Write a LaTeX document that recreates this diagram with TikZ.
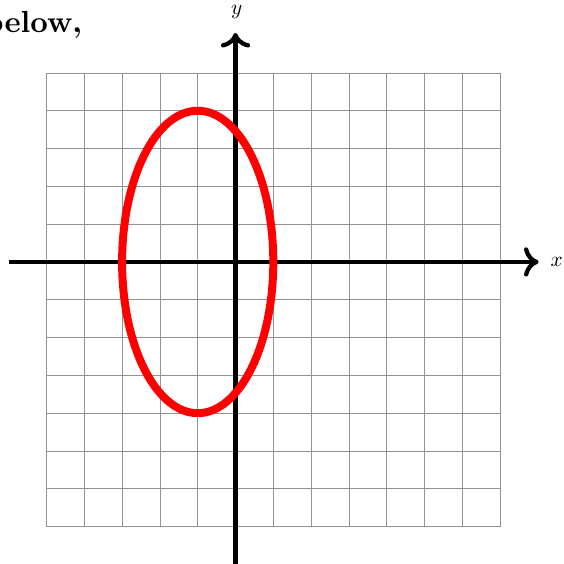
\documentclass[tikz,border=0pt]{standalone}
\usepackage{graphicx}
\usetikzlibrary{arrows.meta}
\begin{document}
\begin{tikzpicture}[
  gridline/.style={draw=gray!85, line width=0.6pt},
  axisline/.style={line width=3.2pt, -{Computer Modern Rightarrow[length=11pt, width=22pt]}, line cap=butt},
  curve/.style={draw=red, line width=6pt},
  axlabel/.style={inner sep=0pt}
]
\useasboundingbox (-6.23,-7.99) rectangle (8.664,6.93);
\draw[gridline] (-5,-7) grid (7,5);
\coordinate (xl) at (-6,0);
\coordinate (xr) at (8.02,0);
\coordinate (yb) at (0,-8.2);
\coordinate (yt) at (0,6.06);
\draw[axisline] (xl) -- (xr);
\draw[axisline] (yb) -- (yt);
\node[axlabel] (xlab) at (8.5,0) {\scalebox{1.6}{$x$}};
\node[axlabel] (ylab) at (0.03,6.62) {\scalebox{1.6}{$y$}};
\draw[curve] (-1,0) ellipse [x radius=2, y radius=4];
\node[anchor=base east, inner sep=0pt, font=\bfseries] (txt) at (-4.05,6.06) {\scalebox{2.3}{below,}};
\end{tikzpicture}
\end{document}
